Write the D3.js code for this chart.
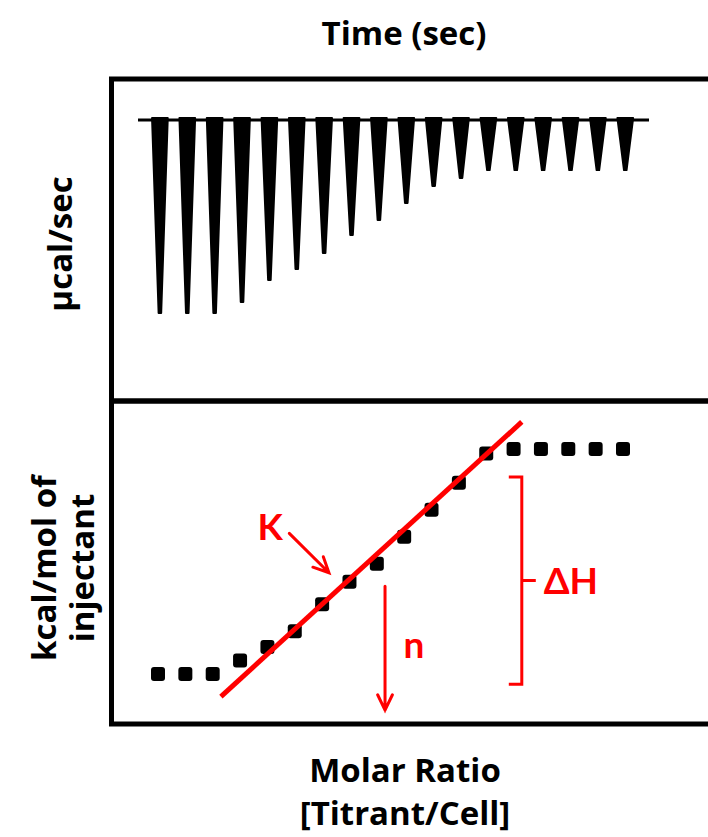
<!DOCTYPE html>
<html>
<head>
<meta charset="utf-8">
<script src="https://cdn.jsdelivr.net/npm/d3@7"></script>
<style>
  body { margin: 0; background: #fff; }
  text { font-family: "Open Sans", Lato, sans-serif; font-weight: bold; }
  text.red { font-family: Lato, "Open Sans", sans-serif; }
</style>
</head>
<body>
<script>
// raw thermogram: injection times (s) and peak heat rate (ucal/sec)
var injectionTimes = [120, 270, 420, 570, 720, 870, 1020, 1170, 1320, 1470, 1620, 1770, 1920, 2070, 2220, 2370, 2520, 2670];
var peakHeights = [-1.93, -1.93, -1.93, -1.82, -1.60, -1.49, -1.33, -1.15, -1.00, -0.83, -0.66, -0.58, -0.50, -0.50, -0.50, -0.50, -0.50, -0.50];
var baselineTimes = [0, 2800];

// integrated heats vs molar ratio
var molarRatios = [0.1, 0.2, 0.3, 0.4, 0.5, 0.6, 0.7, 0.8, 0.9, 1.0, 1.1, 1.2, 1.3, 1.4, 1.5, 1.6, 1.7, 1.8];
var injectionHeats = [-10.0, -10.0, -10.0, -9.4, -8.8, -8.1, -6.9, -5.9, -5.1, -3.9, -2.7, -1.5, -0.2, 0, 0, 0, 0, 0];

// hand drawn fit and annotations (data units)
var fitRatios = [0.33, 1.43];
var fitHeats = [-11.0, 1.2];
var nRatio = 0.93, nHeats = [-6.1, -11.6];
var kArrowRatios = [0.58, 0.725], kArrowHeats = [-3.75, -5.5];
var dhRatio = 1.43, dhHeats = [-1.25, -10.45];

var width = 708,
    height = 837;

var svg = d3.select('body').append("svg")
    .attr("width", width)
    .attr("height", height);

var xTime = d3.scaleLinear().domain([0, 2800]).range([138, 649]);
var yRate = d3.scaleLinear().domain([0.41, -2.81]).range([79, 401]);

var xRatio = d3.scaleLinear().domain([0.1, 1.8]).range([158, 623]);
var yHeat = d3.scaleLinear().domain([2.13, -12.22]).range([401, 724]);

// frames
svg.append("rect")
    .attr("x", 111.5).attr("y", 79)
    .attr("width", 640).attr("height", 322)
    .attr("fill", "none").attr("stroke", "#000").attr("stroke-width", 5);
svg.append("rect")
    .attr("x", 111.5).attr("y", 401)
    .attr("width", 640).attr("height", 323)
    .attr("fill", "none").attr("stroke", "#000").attr("stroke-width", 5);

// baseline
svg.append("line")
    .attr("x1", xTime(baselineTimes[0])).attr("x2", xTime(baselineTimes[1]))
    .attr("y1", yRate(0)).attr("y2", yRate(0))
    .attr("stroke", "#000").attr("stroke-width", 3);

// peaks
var peakLine = d3.line()
    .x(function(d) { return xTime(d[0]); })
    .y(function(d) { return yRate(d[1]); });

svg.selectAll(".peak")
    .data(injectionTimes)
    .enter().append("path")
    .attr("class", "peak")
    .attr("d", function(t, i) {
        var h = peakHeights[i];
        return peakLine([[t - 43, 0.02], [t + 43, 0.02], [t + 7, h], [t - 7, h]]) + "Z";
    })
    .attr("fill", "#000")
    .attr("stroke", "#000")
    .attr("stroke-width", 2)
    .attr("stroke-linejoin", "round");

// heats
svg.selectAll(".pt")
    .data(molarRatios)
    .enter().append("rect")
    .attr("class", "pt")
    .attr("x", function(d) { return xRatio(d) - 7; })
    .attr("y", function(d, i) { return yHeat(injectionHeats[i]) - 7; })
    .attr("width", 14).attr("height", 14)
    .attr("rx", 3)
    .attr("fill", "#000");

// fit line
svg.append("line")
    .attr("x1", xRatio(fitRatios[0])).attr("y1", yHeat(fitHeats[0]))
    .attr("x2", xRatio(fitRatios[1])).attr("y2", yHeat(fitHeats[1]))
    .attr("stroke", "#f00").attr("stroke-width", 5);

var red = "#f00";

function arrow(x1, y1, x2, y2) {
    var a = Math.atan2(y2 - y1, x2 - x1), L = 17, s = 0.45;
    svg.append("path")
        .attr("d", "M" + x1 + "," + y1 + "L" + x2 + "," + y2 +
            "M" + (x2 - L * Math.cos(a - s)) + "," + (y2 - L * Math.sin(a - s)) +
            "L" + x2 + "," + y2 +
            "L" + (x2 - L * Math.cos(a + s)) + "," + (y2 - L * Math.sin(a + s)))
        .attr("fill", "none").attr("stroke", red).attr("stroke-width", 3)
        .attr("stroke-linecap", "round");
}

// K arrow and label
arrow(xRatio(kArrowRatios[0]), yHeat(kArrowHeats[0]), xRatio(kArrowRatios[1]), yHeat(kArrowHeats[1]));
svg.append("text")
    .attr("class", "red")
    .attr("x", xRatio(kArrowRatios[0]) - 19).attr("y", yHeat(kArrowHeats[0]) + 7)
    .attr("text-anchor", "middle").attr("font-size", 37).attr("fill", red)
    .text("K");

// n arrow and label
arrow(xRatio(nRatio), yHeat(nHeats[0]), xRatio(nRatio), yHeat(nHeats[1]));
svg.append("text")
    .attr("class", "red")
    .attr("x", xRatio(nRatio) + 29).attr("y", yHeat(-9.3))
    .attr("text-anchor", "middle").attr("font-size", 37).attr("fill", red)
    .text("n");

// delta H bracket
var bx = xRatio(dhRatio), bTop = yHeat(dhHeats[0]), bBot = yHeat(dhHeats[1]), bMid = (bTop + bBot) / 2;
svg.append("path")
    .attr("d", "M" + (bx - 13) + "," + bTop + "L" + bx + "," + bTop + "L" + bx + "," + bBot + "L" + (bx - 13) + "," + bBot +
        "M" + bx + "," + bMid + "L" + (bx + 14) + "," + bMid)
    .attr("fill", "none").attr("stroke", red).attr("stroke-width", 3);
svg.append("text")
    .attr("class", "red")
    .attr("x", bx + 22).attr("y", bMid + 13)
    .attr("font-size", 37).attr("fill", red)
    .text("ΔH");

// axis titles
svg.append("text")
    .attr("x", 404).attr("y", 45)
    .attr("text-anchor", "middle").attr("font-size", 33)
    .text("Time (sec)");

svg.append("text")
    .attr("x", 405).attr("y", 782)
    .attr("text-anchor", "middle").attr("font-size", 33)
    .text("Molar Ratio");
svg.append("text")
    .attr("x", 405).attr("y", 825)
    .attr("text-anchor", "middle").attr("font-size", 33)
    .text("[Titrant/Cell]");

svg.append("text")
    .attr("transform", "translate(72,244) rotate(-90)")
    .attr("text-anchor", "middle").attr("font-size", 33)
    .text("µcal/sec");

svg.append("text")
    .attr("transform", "translate(56,568) rotate(-90)")
    .attr("text-anchor", "middle").attr("font-size", 33)
    .text("kcal/mol of");
svg.append("text")
    .attr("transform", "translate(94,568) rotate(-90)")
    .attr("text-anchor", "middle").attr("font-size", 33)
    .text("injectant");
</script>
</body>
</html>
